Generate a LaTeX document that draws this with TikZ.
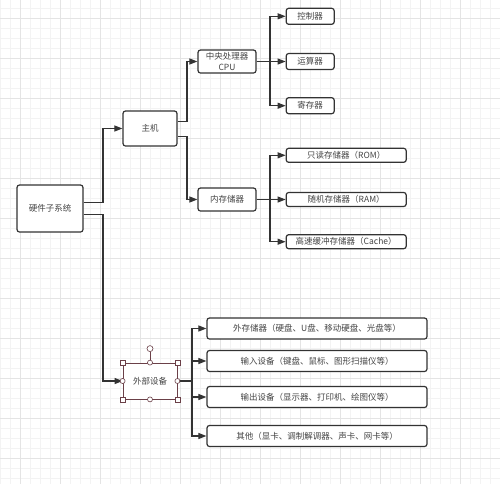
\documentclass[tikz,border=0pt]{standalone}
\usepackage{fontspec}
\newfontfamily\cjk{Noto Sans CJK SC}
\usetikzlibrary{arrows.meta,positioning}
\definecolor{linegray}{HTML}{333333}
\definecolor{textgray}{HTML}{444444}
\definecolor{gridminor}{HTML}{F3F3F3}
\definecolor{gridmajor}{HTML}{E4E4E4}
\definecolor{selred}{HTML}{6B4048}

\begin{document}
\begin{tikzpicture}[
                x=1pt, y=-1pt,
                box/.style={draw=linegray, line width=1.2pt, rounded corners=2.5pt, fill=white, align=center, inner sep=0pt, text=textgray, font=\cjk\fontsize{8.5}{11}\selectfont},
                leaf/.style={box, minimum width=48pt, minimum height=16pt},
                memleaf/.style={box, minimum width=120pt, minimum height=14pt},
                wide/.style={box, minimum width=220pt, minimum height=21pt},
                conn/.style={draw=linegray, line width=1.1pt, -{Triangle[length=8pt,width=6pt]}},
                handle/.style={draw=selred, fill=white, line width=0.6pt},
                node distance=28pt
            ]

            \useasboundingbox (0,0) rectangle (500,483);

            % grid of the editor canvas
            \begin{scope}
                \clip (0,0) rectangle (500,483);
                \fill[white] (0,0) rectangle (500,483);
                \draw[gridminor, line width=0.5pt, step=10pt, yshift=-8pt] (-20,-20) grid (520,500);
                \draw[gridmajor, line width=0.6pt, step=40pt, xshift=20pt, yshift=-18pt] (-40,-40) grid (520,520);
            \end{scope}

            \node[box, minimum width=66pt, minimum height=47pt] (hw) at (50,208.5) {硬件子系统};

            \node[box, minimum width=54pt, minimum height=35pt] (zhuji) at (150,128.5) {主机};

            \node[box, minimum width=58pt, minimum height=23pt] (cpu) at (227,61.5) {中央处理器\\CPU};

            \node[leaf, right=29pt of cpu] (yunsuan) {运算器};
            \node[leaf, above=28pt of yunsuan] (kongzhi) {控制器};
            \node[leaf, below=27pt of yunsuan] (jicun) {寄存器};

            \node[box, minimum width=58pt, minimum height=23pt] (neicun) at (227,199.5) {内存储器};

            \node[memleaf, right=29pt of neicun] (ram) {随机存储器（RAM）};
            \node[memleaf, above=29pt of ram] (rom) {只读存储器（ROM）};
            \node[memleaf, below=27pt of ram] (cache) {高速缓冲存储器（Cache）};

            \node[box, draw=selred, line width=0.8pt, rounded corners=0pt, minimum width=54pt, minimum height=36pt] (waibu) at (150,381) {外部设备};

            \node[wide] (waicun) at (317,328.5) {外存储器（硬盘、U盘、移动硬盘、光盘等）};
            \node[wide] (shuru) at (317,361) {输入设备（键盘、鼠标、图形扫描仪等）};
            \node[wide] (shuchu) at (317,397) {输出设备（显示器、打印机、绘图仪等）};
            \node[wide] (qita) at (317,436) {其他（显卡、调制解调器、声卡、网卡等）};

            \coordinate (b1) at (103,0);
            \coordinate (b2) at (187,0);
            \coordinate (b3) at (270,0);
            \coordinate (b4) at (192,0);

            \draw[conn] ([yshift=6pt]hw.east) -| (b1 |- zhuji) -- (zhuji);
            \draw[conn] ([yshift=-6pt]hw.east) -| (b1 |- waibu) -- (waibu);

            \draw[conn] ([yshift=7pt]zhuji.east) -| (b2 |- cpu) -- (cpu);
            \draw[conn] ([yshift=-8pt]zhuji.east) -| (b2 |- neicun) -- (neicun);

            \draw[conn] (cpu.east) -- (b3 |- cpu) |- (kongzhi.west);
            \draw[conn] (cpu) -- (yunsuan);
            \draw[conn] (cpu.east) -- (b3 |- cpu) |- (jicun.west);

            \draw[conn] (neicun.east) -- (b3 |- neicun) |- (rom.west);
            \draw[conn] (neicun) -- (ram);
            \draw[conn] (neicun.east) -- (b3 |- neicun) |- (cache.west);

            \draw[conn] (waibu.east) -- (b4 |- waibu) |- (waicun.west);
            \draw[conn] (waibu.east) -- (b4 |- waibu) |- (shuru.west);
            \draw[conn] (waibu.east) -- (b4 |- waibu) |- (shuchu.west);
            \draw[conn] (waibu.east) -- (b4 |- waibu) |- (qita.west);

            % selection handles of the editor
            \draw[handle] (waibu.north) -- ([yshift=11pt]waibu.north);
            \filldraw[handle] ([yshift=14pt]waibu.north) circle (3pt);
            \filldraw[handle] ([shift={(-2.5pt,-2.5pt)}]waibu.north west) rectangle ++(5pt,5pt);
            \filldraw[handle] ([shift={(-2.5pt,-2.5pt)}]waibu.north east) rectangle ++(5pt,5pt);
            \filldraw[handle] ([shift={(-2.5pt,-2.5pt)}]waibu.south west) rectangle ++(5pt,5pt);
            \filldraw[handle] ([shift={(-2.5pt,-2.5pt)}]waibu.south east) rectangle ++(5pt,5pt);
            \filldraw[handle] (waibu.north) circle (2.5pt);
            \filldraw[handle] (waibu.south) circle (2.5pt);
            \filldraw[handle] (waibu.west) circle (2.5pt);
            \filldraw[handle] (waibu.east) circle (2.5pt);

        \end{tikzpicture}
\end{document}
